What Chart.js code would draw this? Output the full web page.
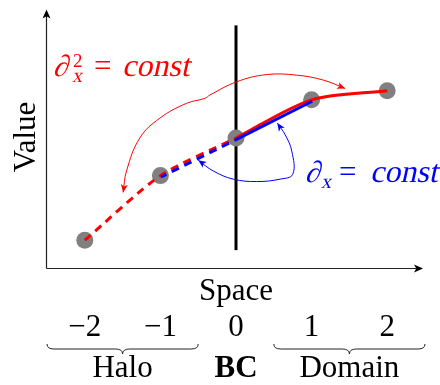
<!DOCTYPE html>
<html>
<head>
<meta charset="utf-8">
<script src="https://cdn.jsdelivr.net/npm/chart.js@4/dist/chart.umd.min.js"></script>
<style>
  html, body { margin: 0; padding: 0; background: #fff; }
  #c { display: block; }
</style>
</head>
<body>
<canvas id="c" width="440" height="385"></canvas>
<script>
// ---- data ----
const positions = [-2, -1, 0, 1, 2];
const values = [1.07, 3.56, 5.01, 6.48, 6.83];
const tickLabels = ['\u22122', '\u22121', '0', '1', '2'];
const regionNames = ['Halo', 'BC', 'Domain'];
const regionCenters = [-1.5, 0, 1.5];
const braceFrom = [-2.5, 0.5];
const braceTo = [-0.5, 2.5];
const bcLine = [0.69, 9.35];
const redArcX = [-1.493, -1.448, -1.272, -1.007, -0.653, -0.411, -0.344, 0.009, 0.406, 0.804, 1.156, 1.444];
const redArcY = [2.912, 3.740, 5.011, 5.775, 6.347, 6.538, 6.668, 7.176, 7.454, 7.431, 7.240, 6.920];
const blueArcX = [-0.499, -0.301, -0.036, 0.274, 0.583, 0.751, 0.738, 0.649, 0.547];
const blueArcY = [4.149, 3.740, 3.424, 3.332, 3.424, 3.615, 4.504, 5.141, 5.584];

const RED = '#ff0000', BLUE = '#0000ff', GREY = '#808080';
const SERIF = '"Liberation Serif", "Times New Roman", serif';

const pts = idx => idx.map(i => ({ x: positions[i], y: values[i] }));
const zipXY = (xs, ys) => xs.map((x, i) => ({ x, y: ys[i] }));

function arrowHead(ctx, tip, from, color, len, half) {
  const ang = Math.atan2(tip.y - from.y, tip.x - from.x);
  ctx.save();
  ctx.translate(tip.x, tip.y);
  ctx.rotate(ang);
  ctx.beginPath();
  ctx.moveTo(0, 0);
  ctx.lineTo(-len, -half);
  ctx.lineTo(-len * 0.75, 0);
  ctx.lineTo(-len, half);
  ctx.closePath();
  ctx.fillStyle = color;
  ctx.fill();
  ctx.restore();
}

function brace(ctx, x0, x1, yTop, depth) {
  const xc = (x0 + x1) / 2, r = 7;
  const yMid = yTop + depth / 2, yBot = yTop + depth;
  ctx.beginPath();
  ctx.moveTo(x0, yTop);
  ctx.quadraticCurveTo(x0, yMid, x0 + r, yMid);
  ctx.lineTo(xc - r, yMid);
  ctx.quadraticCurveTo(xc, yMid, xc, yBot);
  ctx.quadraticCurveTo(xc, yMid, xc + r, yMid);
  ctx.lineTo(x1 - r, yMid);
  ctx.quadraticCurveTo(x1, yMid, x1, yTop);
  ctx.stroke();
}

// synthetic italic: regular serif face, slanted
function slanted(ctx, text, x, y, size) {
  ctx.save();
  ctx.font = size + 'px ' + SERIF;
  ctx.translate(x, y);
  ctx.transform(1, 0, -0.22, 1, 0, 0);
  ctx.fillText(text, 0, 0);
  ctx.restore();
}
function upright(ctx, text, x, y, size) {
  ctx.font = size + 'px ' + SERIF;
  ctx.fillText(text, x, y);
}

const decor = {
  id: 'decor',
  beforeDatasetDraw(chart, args) {
    const ds = chart.data.datasets[args.index];
    if (ds.shift) {
      chart.ctx.save();
      chart.ctx.translate(0.6, 1.4);
    }
  },
  afterDatasetDraw(chart, args) {
    const ds = chart.data.datasets[args.index];
    if (ds.shift) chart.ctx.restore();
  },
  beforeDatasetsDraw(chart) {
    const ctx = chart.ctx, a = chart.chartArea;
    ctx.save();
    ctx.strokeStyle = '#222';
    ctx.lineWidth = 1.2;
    const x0 = a.left - 0.5, y0 = a.bottom + 0.5;
    ctx.beginPath();
    ctx.moveTo(x0, y0);
    ctx.lineTo(x0, a.top + 6);
    ctx.moveTo(x0, y0);
    ctx.lineTo(a.right - 6, y0);
    ctx.stroke();
    arrowHead(ctx, { x: x0, y: a.top + 1 }, { x: x0, y: y0 }, '#000', 9, 4);
    arrowHead(ctx, { x: a.right - 2, y: y0 }, { x: x0, y: y0 }, '#000', 9, 4);
    ctx.restore();
  },
  afterDatasetsDraw(chart) {
    const ctx = chart.ctx;
    chart.data.datasets.forEach(ds => {
      if (!ds.arrows) return;
      const xs = chart.scales.x, ys = chart.scales.y;
      const p = ds.data.map(d => ({ x: xs.getPixelForValue(d.x), y: ys.getPixelForValue(d.y) }));
      const n = p.length;
      arrowHead(ctx, p[0], p[1], ds.borderColor, 8, 3.5);
      arrowHead(ctx, p[n - 1], p[n - 2], ds.borderColor, 8, 3.5);
    });
  },
  afterDraw(chart) {
    const ctx = chart.ctx, xs = chart.scales.x;
    ctx.save();
    ctx.fillStyle = '#000';
    ctx.textBaseline = 'alphabetic';
    // axis titles
    ctx.font = '31px ' + SERIF;
    ctx.textAlign = 'center';
    ctx.fillText('Space', xs.getPixelForValue(0), 300);
    ctx.save();
    ctx.translate(35, 137);
    ctx.rotate(-Math.PI / 2);
    ctx.fillText('Value', 0, 0);
    ctx.restore();
    // tick labels
    positions.forEach((v, i) => {
      ctx.fillText(tickLabels[i], xs.getPixelForValue(v), 336);
    });
    // braces
    ctx.strokeStyle = '#222';
    ctx.lineWidth = 1;
    braceFrom.forEach((f, i) => {
      brace(ctx, xs.getPixelForValue(f), xs.getPixelForValue(braceTo[i]), 344, 10);
    });
    // region names
    regionNames.forEach((nm, i) => {
      ctx.font = (nm === 'BC' ? 'bold ' : '') + '31px ' + SERIF;
      ctx.fillText(nm, xs.getPixelForValue(regionCenters[i]), 377);
    });
    // math labels
    ctx.textAlign = 'left';
    ctx.fillStyle = RED;
    slanted(ctx, '\u2202', 53, 76, 30);
    upright(ctx, '2', 73, 67, 19);
    slanted(ctx, 'x', 72, 82, 20);
    upright(ctx, '=', 94, 76, 31);
    slanted(ctx, 'const', 122, 76, 32);

    ctx.fillStyle = BLUE;
    slanted(ctx, '\u2202', 305, 182, 30);
    slanted(ctx, 'x', 321, 188, 20);
    upright(ctx, '=', 339, 182, 31);
    slanted(ctx, 'const', 370, 182, 32);
    ctx.restore();
  }
};

new Chart(document.getElementById('c'), {
  type: 'scatter',
  data: {
    datasets: [
      { data: [{ x: 0, y: bcLine[0] }, { x: 0, y: bcLine[1] }], showLine: true,
        borderColor: '#000', borderWidth: 3, pointRadius: 0, order: 7 },
      { data: pts([0, 1, 2, 3, 4]), showLine: false, pointRadius: 8.5,
        backgroundColor: GREY, borderWidth: 0, order: 6 },
      { data: pts([0, 1, 2]), showLine: true, borderColor: RED, borderWidth: 3,
        borderDash: [8, 6], tension: 0.25, pointRadius: 0, order: 5 },
      { data: pts([2, 3, 4]), showLine: true, borderColor: RED, borderWidth: 3,
        tension: 0.3, pointRadius: 0, order: 4 },
      { data: pts([1, 2]), showLine: true, borderColor: BLUE, borderWidth: 3,
        borderDash: [8, 6], borderDashOffset: 2, pointRadius: 0, order: 3, shift: true },
      { data: pts([2, 3]), showLine: true, borderColor: BLUE, borderWidth: 3,
        pointRadius: 0, order: 2, shift: true },
      { data: zipXY(redArcX, redArcY), showLine: true, borderColor: RED, borderWidth: 1,
        tension: 0.4, pointRadius: 0, order: 1, arrows: true },
      { data: zipXY(blueArcX, blueArcY), showLine: true, borderColor: BLUE, borderWidth: 1,
        tension: 0.4, pointRadius: 0, order: 0, arrows: true }
    ]
  },
  options: {
    responsive: false,
    animation: false,
    clip: false,
    layout: { padding: { left: 47, right: 15, top: 6, bottom: 117 } },
    scales: {
      x: { type: 'linear', min: -2.5, max: 2.5, display: false },
      y: { type: 'linear', min: 0, max: 10, display: false }
    },
    plugins: { legend: { display: false }, tooltip: { enabled: false } },
    elements: { line: { capBezierPoints: false } }
  },
  plugins: [decor]
});
</script>
</body>
</html>
